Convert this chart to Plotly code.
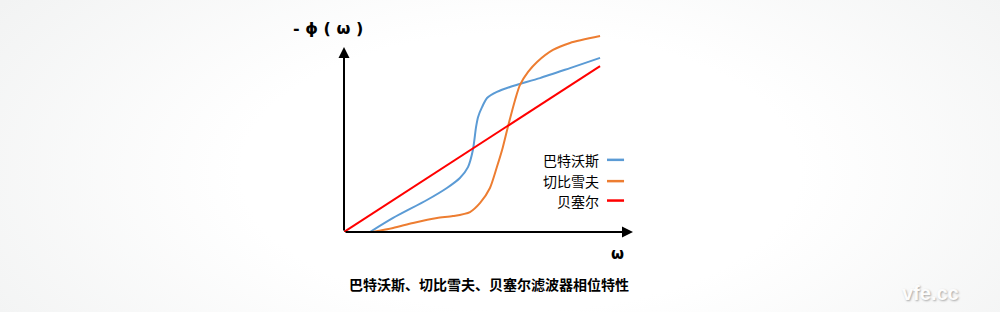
import base64
import plotly.graph_objects as go

# ---- data (x = omega, y = -phi(omega), arbitrary units) ----
butter_x = [0.90, 1.70, 2.87, 3.56, 4.01, 4.29, 4.46, 4.57, 4.64, 4.78, 4.95, 5.29, 5.74, 6.78, 7.82, 8.86]
butter_y = [0.00, 0.76, 1.73, 2.38, 2.92, 3.51, 4.43, 5.68, 6.22, 6.76, 7.24, 7.57, 7.84, 8.32, 8.86, 9.41]

cheby_x = [0.97, 1.70, 2.39, 3.22, 3.77, 4.36, 4.71, 5.05, 5.29, 5.47, 5.67, 5.92, 6.09, 6.37, 6.68, 7.23, 7.82, 8.86]
cheby_y = [0.00, 0.22, 0.49, 0.76, 0.86, 1.08, 1.57, 2.38, 3.51, 4.43, 5.68, 7.14, 7.95, 8.65, 9.19, 9.84, 10.22, 10.59]

bessel_x = [0.0, 8.86]
bessel_y = [0.0, 8.97]

series_names = ["巴特沃斯", "切比雪夫", "贝塞尔"]
series_colors = ["#5B9BD5", "#ED7D31", "#FF0000"]

title_text = "巴特沃斯、切比雪夫、贝塞尔滤波器相位特性"
y_label = "- ϕ ( ω )"
x_label = "ω"
watermark = "vfe.cc"

fig = go.Figure()
for xs, ys, name, col in zip([butter_x, cheby_x, bessel_x], [butter_y, cheby_y, bessel_y],
                             series_names, series_colors):
    fig.add_trace(go.Scatter(x=xs, y=ys, mode="lines", name=name,
                             line=dict(color=col, width=2, shape="spline", smoothing=0.7),
                             showlegend=False, hoverinfo="skip"))

# background radial gradient
svg = ('<svg xmlns="http://www.w3.org/2000/svg" width="1000" height="312">'
       '<defs><radialGradient id="g" cx="0.52" cy="0.55" r="0.62" '
       'gradientTransform="translate(0.52 0.55) scale(1 1.6) translate(-0.52 -0.55)">'
       '<stop offset="0" stop-color="#ffffff"/><stop offset="0.45" stop-color="#ffffff"/>'
       '<stop offset="1" stop-color="#f2f3f3"/></radialGradient></defs>'
       '<rect width="1000" height="312" fill="url(#g)"/></svg>')
src = "data:image/svg+xml;base64," + base64.b64encode(svg.encode()).decode()
fig.add_layout_image(dict(source=src, xref="paper", yref="paper", x=0, y=1, sizex=1, sizey=1,
                          sizing="stretch", layer="below", xanchor="left", yanchor="top"))

# axes arrows
for (tx, ty) in [(10.0, 0.0), (0.0, 10.0)]:
    fig.add_annotation(x=tx, y=ty, ax=0, ay=0, xref="x", yref="y", axref="x", ayref="y",
                       text="", showarrow=True, arrowhead=2, arrowsize=1.1, arrowwidth=2,
                       arrowcolor="black", standoff=0, startstandoff=0)

def py(pix):
    return (312 - pix) / 312

# axis labels
fig.add_annotation(x=0.328, y=py(28), xref="paper", yref="paper", text="<b>" + y_label + "</b>",
                   showarrow=False, xanchor="center", yanchor="middle",
                   font=dict(family="DejaVu Sans", size=16, color="black"))
fig.add_annotation(x=0.617, y=py(254), xref="paper", yref="paper", text="<b>" + x_label + "</b>",
                   showarrow=False, xanchor="center", yanchor="middle",
                   font=dict(family="DejaVu Sans", size=15, color="black"))

# legend (text left, line right)
leg_y = [3.9, 2.75, 1.7]
for name, col, ly in zip(series_names, series_colors, leg_y):
    fig.add_annotation(x=8.9, y=ly, xref="x", yref="y", text=name, showarrow=False,
                       xanchor="right", font=dict(family="Noto Sans CJK SC", size=14, color="black"))
    fig.add_shape(type="line", x0=9.1, x1=9.69, y0=ly, y1=ly, xref="x", yref="y",
                  line=dict(color=col, width=2.5))

# title
fig.add_annotation(x=0.489, y=py(284), xref="paper", yref="paper", xanchor="center", yanchor="middle",
                   text="<b>" + title_text + "</b>", showarrow=False,
                   font=dict(family="Noto Sans CJK SC", size=14, color="black"))

# watermark
fig.add_annotation(x=0.93, y=py(293), xref="paper", yref="paper", xanchor="center", yanchor="middle",
                   text="<b>" + watermark + "</b>", showarrow=False,
                   font=dict(family="Arial, Liberation Sans", size=20, color="#fcfcfc",
                             shadow="1px 1px 2px #a8a8a8"))

fig.update_layout(
    width=1000, height=312, margin=dict(l=0, r=0, t=0, b=0),
    paper_bgcolor="white", plot_bgcolor="rgba(0,0,0,0)",
    xaxis=dict(domain=[0.344, 0.344 + 11 * 0.0289], range=[0, 11], visible=False, fixedrange=True),
    yaxis=dict(domain=[80 / 312, (312 - (232 - 12 * 18.5)) / 312], range=[0, 12], visible=False, fixedrange=True),
)

fig.write_html("out.html")
